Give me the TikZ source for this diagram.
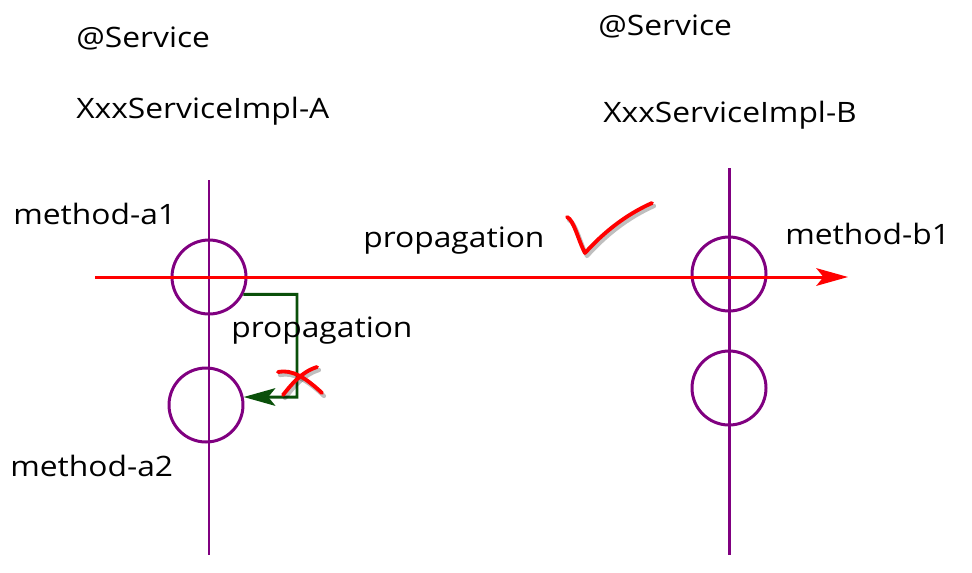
\documentclass[tikz,border=0pt]{standalone}
\usepackage{fontspec}
\setmainfont[FakeStretch=1.13]{Open Sans}
\usetikzlibrary{arrows.meta,positioning}
\definecolor{lanepurple}{RGB}{128,0,128}
\definecolor{propred}{RGB}{255,0,0}
\definecolor{nestgreen}{RGB}{10,80,10}

\begin{document}
\begin{tikzpicture}[x=0.02cm,y=-0.02cm,
  lane/.style={draw=lanepurple,line width=1.7pt},
  call/.style={circle,draw=lanepurple,line width=1.7pt,inner sep=0pt,minimum size=1.48cm},
  lbl/.style={anchor=base west,inner sep=0pt,font=\fontsize{16}{19}\selectfont},
  prop/.style={draw=propred,line width=1.7pt,-{Stealth[length=18pt,width=10pt,inset=4pt]}},
  nested/.style={draw=nestgreen,line width=1.7pt,-{Stealth[length=18pt,width=10pt,inset=4pt]}},
  penstroke/.style={draw=propred,line width=2.2pt,line cap=round,line join=round},
  penshade/.style={draw=black,opacity=0.25,line width=2.4pt,line cap=round,line join=round}]
  \useasboundingbox (0,0) rectangle (972,572);
  % service A
  \node[lbl] (annA) at (76,47) {@Service};
  \node[lbl] (implA) at (76,118) {XxxServiceImpl-A};
  \coordinate (topA) at (209,180);
  \coordinate (botA) at (209,555);
  \draw[lane] (topA) -- (botA);
  \node[call] (a1) at (209,277) {};
  \node[call] (a2) at (206,405) {};
  \node[lbl] (ma1) at (13,224) {method-a1};
  \node[lbl] (ma2) at (10,476) {method-a2};
  % service B
  \node[lbl] (annB) at (598,35) {@Service};
  \node[lbl] (implB) at (603,122) {XxxServiceImpl-B};
  \coordinate (topB) at (729,168);
  \coordinate (botB) at (729,555);
  \draw[lane] (topB) -- (botB);
  \node[call] (b1) at (729,274) {};
  \node[call] (b2) at (729,388) {};
  \node[lbl] (mb1) at (785,244) {method-b1};
  % propagation across services
  \coordinate (start) at (95,277);
  \coordinate (tip) at (848,277);
  \draw[prop] (start) -- (tip);
  \node[lbl] (propAB) at (363,247) {propagation};
  % propagation inside service A
  \coordinate (elbow) at (297,397);
  \draw[nested] (a1.-27) -| (elbow) -- (a2.12);
  \node[lbl] (propA) at (231,337) {propagation};
  % check and cross
  \begin{scope}[shift={(2,3)}]
    \draw[penshade] (567,217) .. controls (574,220) and (578,240) .. (585,253) .. controls (603,233) and (625,215) .. (652,203);
    \draw[penshade] (278,372) .. controls (292,369) and (306,378) .. (322,393);
    \draw[penshade] (317,367) .. controls (301,372) and (291,385) .. (283,395);
  \end{scope}
  \draw[penstroke] (567,217) .. controls (574,220) and (578,240) .. (585,253) .. controls (603,233) and (625,215) .. (652,203);
  \draw[penstroke] (278,372) .. controls (292,369) and (306,378) .. (322,393);
  \draw[penstroke] (317,367) .. controls (301,372) and (291,385) .. (283,395);
\end{tikzpicture}
\end{document}
